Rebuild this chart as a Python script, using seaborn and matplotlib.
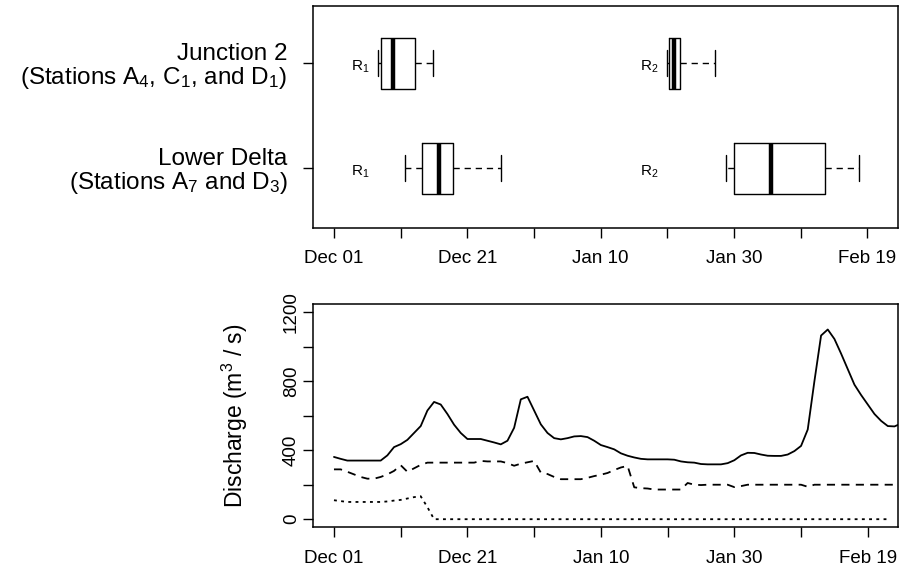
import numpy as np
import pandas as pd
import seaborn as sns
import matplotlib.pyplot as plt

# days since Dec 01
tick_days = [0, 10, 20, 30, 40, 50, 60, 70, 80]
tick_labels = ["Dec 01", "", "Dec 21", "", "Jan 10", "", "Jan 30", "", "Feb 19"]

# top panel: arrival windows (days since Dec 01)
row_labels = [
    "Junction 2\n(Stations A$_4$, C$_1$, and D$_1$)",
    "Lower Delta\n(Stations A$_7$ and D$_3$)",
]
box_rows = [0, 0, 1, 1]
box_names = ["R$_1$", "R$_2$", "R$_1$", "R$_2$"]
whis_lo = [6.6, 50.0, 10.7, 58.8]
q1 = [7.0, 50.2, 13.2, 60.0]
med = [8.8, 51.0, 15.8, 65.6]
q3 = [12.2, 51.9, 17.8, 73.7]
whis_hi = [14.9, 57.2, 25.1, 78.7]
name_x = [4.0, 47.3, 4.0, 47.3]

# bottom panel: daily discharge (m3/s)
q_solid = [361, 350, 340, 340, 340, 340, 340, 340, 370, 418,
           435, 460, 500, 540, 630, 680, 665, 610, 548, 500,
           465, 465, 465, 455, 445, 434, 455, 530, 695, 710,
           630, 550, 500, 470, 463, 470, 480, 482, 476, 455,
           430, 418, 405, 382, 368, 358, 350, 347, 347, 347,
           347, 345, 335, 330, 328, 320, 318, 318, 318, 325,
           342, 370, 385, 384, 375, 368, 367, 367, 375, 395,
           425, 520, 800, 1065, 1100, 1045, 960, 870, 780, 720,
           665, 610, 570, 540, 538, 555]
q_dashed = [289, 289, 275, 260, 245, 235, 235, 245, 260, 280,
            313, 275, 295, 315, 328, 328, 328, 328, 328, 328,
            328, 328, 338, 335, 335, 335, 325, 310, 322, 330,
            338, 270, 262, 245, 232, 232, 232, 232, 240, 250,
            258, 268, 285, 300, 309, 185, 180, 178, 172, 172,
            172, 172, 172, 210, 200, 198, 200, 200, 200, 200,
            186, 192, 200, 200, 200, 200, 200, 200, 200, 200,
            200, 188, 200, 200, 200, 200, 200, 200, 200, 200,
            200, 200, 200, 200, 200, 200]
q_dotted = [110, 105, 100, 100, 100, 100, 100, 100, 103, 108,
            112, 120, 128, 133, 70, 0, 0, 0, 0, 0,
            0, 0, 0, 0, 0, 0, 0, 0, 0, 0,
            0, 0, 0, 0, 0, 0, 0, 0, 0, 0,
            0, 0, 0, 0, 0, 0, 0, 0, 0, 0,
            0, 0, 0, 0, 0, 0, 0, 0, 0, 0,
            0, 0, 0, 0, 0, 0, 0, 0, 0, 0,
            0, 0, 0, 0, 0, 0, 0, 0, 0, 0,
            0, 0, 0, 0]
y_ticks = [0, 200, 400, 600, 800, 1000, 1200]
y_tick_labels = ["0", "", "400", "", "800", "", "1200"]

sns.set_style("ticks")
plt.rcParams["font.family"] = ["Liberation Sans", "DejaVu Sans"]
plt.rcParams["mathtext.default"] = "regular"
for key in ["text.color", "axes.labelcolor", "xtick.color", "ytick.color", "axes.edgecolor"]:
    plt.rcParams[key] = "black"

fig = plt.figure(figsize=(9.03, 5.78), dpi=100)
ax_top = fig.add_axes([0.3463, 0.6061, 0.6482, 0.3841])
ax_bot = fig.add_axes([0.3462, 0.0874, 0.6488, 0.3867])

xlim = (-3.2, 84.6)

# Top panel
stats = []
for i in range(len(med)):
    stats.append(
        {
            "whislo": whis_lo[i],
            "q1": q1[i],
            "med": med[i],
            "q3": q3[i],
            "whishi": whis_hi[i],
            "fliers": [],
        }
    )

ax_top.bxp(
    stats,
    positions=box_rows,
    widths=0.486,
    capwidths=0.245,
    orientation="horizontal",
    showfliers=False,
    boxprops=dict(color="black", linewidth=1.0),
    medianprops=dict(color="black", linewidth=3.2, solid_capstyle="butt"),
    whiskerprops=dict(color="black", linewidth=1.0, linestyle=(0, (4.5, 3.5))),
    capprops=dict(color="black", linewidth=1.0),
    manage_ticks=False,
)

for i in range(len(box_names)):
    ax_top.text(
        name_x[i],
        box_rows[i] + 0.03,
        box_names[i],
        ha="center",
        va="center",
        fontsize=11,
    )

ax_top.set_xlim(xlim)
ax_top.set_ylim(1.566, -0.549)
ax_top.set_xticks(tick_days)
ax_top.set_xticklabels(tick_labels)
ax_top.set_yticks([0, 1])
ax_top.set_yticklabels(row_labels, linespacing=1.0)

# Bottom panel
df = pd.concat(
    [
        pd.DataFrame({"day": np.arange(len(q_solid)), "q": q_solid, "series": "solid"}),
        pd.DataFrame({"day": np.arange(len(q_dashed)), "q": q_dashed, "series": "dashed"}),
        pd.DataFrame({"day": np.arange(len(q_dotted)), "q": q_dotted, "series": "dotted"}),
    ],
    ignore_index=True,
)

sns.lineplot(
    data=df,
    x="day",
    y="q",
    style="series",
    dashes={"solid": "", "dashed": (4.5, 3.5), "dotted": (1.6, 2.4)},
    color="black",
    linewidth=1.3,
    legend=False,
    ax=ax_bot,
)

ax_bot.set_xlim(xlim)
ax_bot.set_ylim(-48, 1248)
ax_bot.set_xticks(tick_days)
ax_bot.set_xticklabels(tick_labels)
ax_bot.set_yticks(y_ticks)
ax_bot.set_yticklabels(y_tick_labels)
ax_bot.set_xlabel("")
ax_bot.set_ylabel("Discharge (m$^3$ / s)", fontsize=16.5)
ax_bot.yaxis.set_label_coords(-0.107, 0.5)

# Formatting
for ax in [ax_top, ax_bot]:
    for side in ["top", "right", "bottom", "left"]:
        ax.spines[side].set_visible(True)
        ax.spines[side].set_linewidth(1.1)
        ax.spines[side].set_color("black")
    ax.tick_params(axis="both", direction="out", length=7, width=1.0, color="black")
    ax.tick_params(axis="x", labelsize=13.5, pad=9)

ax_top.tick_params(axis="y", labelsize=17.5, pad=11)
ax_bot.tick_params(axis="y", labelsize=13.5, pad=2, labelrotation=90)
for lab in ax_bot.get_yticklabels():
    lab.set_va("center")

fig.savefig("out.png", dpi=100)
